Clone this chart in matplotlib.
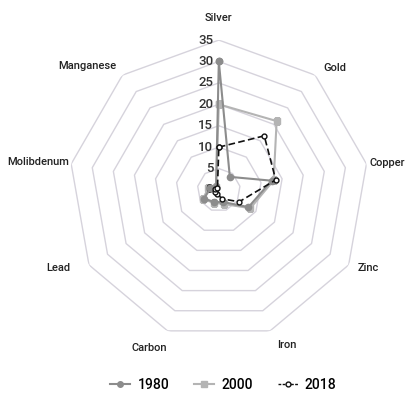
import numpy as np
import matplotlib
matplotlib.use("Agg")
import matplotlib.pyplot as plt
from matplotlib.lines import Line2D

categories = ["Silver", "Gold", "Copper", "Zinc", "Iron", "Carbon", "Lead", "Molibdenum", "Manganese"]
v1980 = [30, 4, 12.5, 8, 3, 3, 4, 2, 1]
v2000 = [20, 21, 13, 8.5, 3.5, 3.2, 4.3, 2.5, 1]
v2018 = [10, 16.5, 13.5, 5.5, 2.2, 1, 1, 1, 0.5]
ticks = [0, 5, 10, 15, 20, 25, 30, 35]

# label placement (pixel offsets from the outer ring vertex, alignment)
label_offsets = [(0, 22), (8, 7), (3, 1), (9, -3), (7, -14), (-1, -17), (-19, -3), (-2, 2), (-6, 9)]
label_ha = ["center", "left", "left", "left", "left", "right", "right", "right", "right"]

FAM = ["Roboto", "DejaVu Sans"]
font = {"family": FAM, "weight": "medium"}

fig = plt.figure(figsize=(4.2, 4.13), dpi=100)
ax = fig.add_axes([0.164, 0.177, 0.714, 0.726], projection="polar")
ax.set_theta_zero_location("N")
ax.set_theta_direction(-1)
n = len(categories)
theta = np.arange(n) * 2 * np.pi / n
tc = np.concatenate([theta, theta[:1]])

ax.set_ylim(0, 35)
ax.grid(False)
ax.spines["polar"].set_visible(False)
ax.set_xticks([])
ax.set_yticks([])

for t in ticks[1:]:
    ax.plot(tc, [t] * (n + 1), color="#d6d3dc", lw=1.0, zorder=1)

def closed(v):
    return list(v) + [v[0]]

ax.plot(tc, closed(v2000), color="#b4b4b4", lw=1.5, marker="s", ms=4.5, zorder=3)
ax.plot(tc, closed(v1980), color="#8c8c8c", lw=1.5, marker="o", ms=4.5, zorder=4)
ax.plot(tc, closed(v2018), color="#111111", lw=1.2, ls=(0, (4, 2)), marker="o", ms=3.5,
        mfc="white", mec="#111111", zorder=5)

for t in ticks:
    ax.annotate(str(t), xy=(0, t), xytext=(-4, 0), textcoords="offset points",
                ha="right", va="center", fontsize=9.5, color="#333333", **font)

for th, name, off, ha in zip(theta, categories, label_offsets, label_ha):
    ax.annotate(name, xy=(th, ticks[-1]), xytext=off, textcoords="offset pixels",
                ha=ha, va="center", fontsize=8, color="#222222", **font)

handles = [
    Line2D([], [], color="#8c8c8c", lw=1.5, marker="o", ms=4),
    Line2D([], [], color="#b4b4b4", lw=1.5, marker="s", ms=4),
    Line2D([], [], color="#111111", lw=1.0, ls=(0, (2, 1)), marker="o", ms=3.5, mfc="white"),
]
fig.legend(handles, ["1980", "2000", "2018"], loc="center", bbox_to_anchor=(0.532, 0.068),
           ncol=3, frameon=False, prop={"family": FAM, "weight": "medium", "size": 10},
           handlelength=1.45, columnspacing=1.8, handletextpad=0.5)

fig.savefig("out.png", dpi=100)
